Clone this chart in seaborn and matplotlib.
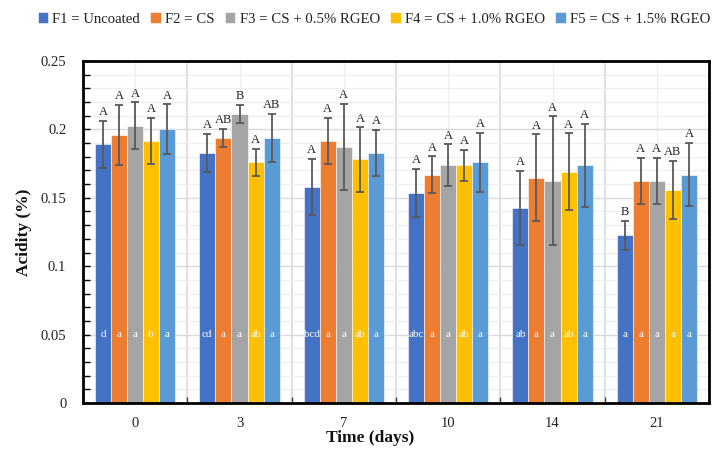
import matplotlib
matplotlib.use("Agg")
import matplotlib.pyplot as plt
import numpy as np
import pandas as pd
import seaborn as sns
from matplotlib.ticker import MultipleLocator, FixedLocator, FuncFormatter

# Storage days and coating formulations
days = ["0", "3", "7", "10", "14", "21"]
formulations = ["F1 = Uncoated", "F2 = CS", "F3 = CS + 0.5% RGEO",
                "F4 = CS + 1.0% RGEO", "F5 = CS + 1.5% RGEO"]
colors = ["#4472C4", "#ED7D31", "#A5A5A5", "#FFC000", "#5B9BD5"]

# Mean titratable acidity (%) per formulation across days
f1_mean = [0.189, 0.1825, 0.158, 0.1535, 0.1425, 0.1225]
f2_mean = [0.196, 0.1937, 0.1915, 0.1669, 0.1647, 0.1625]
f3_mean = [0.2027, 0.2115, 0.1871, 0.1737, 0.1625, 0.1625]
f4_mean = [0.1915, 0.176, 0.178, 0.1737, 0.1691, 0.1557]
f5_mean = [0.2003, 0.1937, 0.1827, 0.176, 0.1737, 0.1669]

# Standard deviations
f1_sd = [0.017, 0.014, 0.0205, 0.0177, 0.027, 0.0105]
f2_sd = [0.0217, 0.0067, 0.017, 0.0134, 0.0317, 0.0167]
f3_sd = [0.017, 0.0067, 0.0316, 0.0154, 0.047, 0.0167]
f4_sd = [0.017, 0.010, 0.0234, 0.0115, 0.028, 0.0215]
f5_sd = [0.018, 0.0177, 0.0168, 0.0217, 0.0306, 0.0231]

# Significance letters: uppercase between days, lowercase between formulations
f1_upper = ["A", "A", "A", "A", "A", "B"]
f2_upper = ["A", "AB", "A", "A", "A", "A"]
f3_upper = ["A", "B", "A", "A", "A", "A"]
f4_upper = ["A", "A", "A", "A", "A", "AB"]
f5_upper = ["A", "AB", "A", "A", "A", "A"]

f1_lower = ["d", "cd", "bcd", "abc", "ab", "a"]
f2_lower = ["a", "a", "a", "a", "a", "a"]
f3_lower = ["a", "a", "a", "a", "a", "a"]
f4_lower = ["b", "ab", "ab", "ab", "ab", "a"]
f5_lower = ["a", "a", "a", "a", "a", "a"]

means = [f1_mean, f2_mean, f3_mean, f4_mean, f5_mean]
sds = [f1_sd, f2_sd, f3_sd, f4_sd, f5_sd]
uppers = [f1_upper, f2_upper, f3_upper, f4_upper, f5_upper]
lowers = [f1_lower, f2_lower, f3_lower, f4_lower, f5_lower]

rows = []
for name, vals in zip(formulations, means):
    for d, v in zip(days, vals):
        rows.append({"day": d, "formulation": name, "acidity": v})
df = pd.DataFrame(rows)

sns.set_style("white")
plt.rcParams["font.family"] = ["Liberation Serif", "DejaVu Serif"]

fig = plt.figure(figsize=(7.15, 4.49), dpi=100)
ax = fig.add_axes([83 / 715, 1 - 403 / 449, 626 / 715, 342 / 449])

sns.barplot(data=df, x="day", y="acidity", hue="formulation",
            order=days, hue_order=formulations, palette=colors,
            width=0.77, errorbar=None, saturation=1,
            edgecolor="white", linewidth=0.4, ax=ax, zorder=2)

# Error bars and letters on each bar
bar_containers = list(ax.containers)
for k, cont in enumerate(bar_containers):
    for j, bar in enumerate(cont.patches):
        x = bar.get_x() + bar.get_width() / 2
        h = bar.get_height()
        e = sds[k][j]
        ax.errorbar(x, h, yerr=e, fmt="none", ecolor="#595959",
                    elinewidth=1.3, capsize=2.6, capthick=1.3, zorder=3)
        ax.annotate(uppers[k][j], (x, h + e), xytext=(0, 2),
                    textcoords="offset points", ha="center", va="bottom",
                    fontsize=9, color="#222222", zorder=4)
        ax.text(x, 0.05, lowers[k][j], ha="center", va="center",
                fontsize=8, color="white", zorder=4)

ax.set_xlim(-0.5, 5.5)
ax.set_ylim(0, 0.25)

# Gridlines
ax.yaxis.set_major_locator(MultipleLocator(0.05))
ax.yaxis.set_minor_locator(MultipleLocator(0.01))
ax.yaxis.set_major_formatter(FuncFormatter(lambda v, p: f"{round(v, 3):g}"))
ax.xaxis.set_minor_locator(FixedLocator(np.arange(0.5, 5.0, 1.0)))
ax.set_axisbelow(True)
ax.grid(which="major", axis="y", color="#d9d9d9", lw=1.0, zorder=0)
ax.grid(which="minor", axis="y", color="#eeeeee", lw=0.9, zorder=0)
ax.grid(which="minor", axis="x", color="#d9d9d9", lw=1.2, zorder=0)
ax.grid(which="major", axis="x", color="#eeeeee", lw=1.0, zorder=0)

ax.tick_params(axis="y", which="both", direction="in", length=5, width=1,
               color="black", left=True, pad=12, labelsize=10.5,
               labelcolor="#222222")
ax.tick_params(axis="x", which="both", direction="in", length=4, width=1,
               color="#404040", bottom=True, pad=10, labelsize=10.5,
               labelcolor="#222222")

for s in ax.spines.values():
    s.set_visible(True)
    s.set_color("black")
    s.set_linewidth(2)

ax.set_xlabel("Time (days)", fontsize=12.5, fontweight="bold", color="#111111")
ax.xaxis.set_label_coords(0.458, -0.08)
ax.set_ylabel("Acidity (%)", fontsize=12.5, fontweight="bold", color="#111111")
ax.yaxis.set_label_coords(-0.081, 0.5)

handles, labels = ax.get_legend_handles_labels()
ax.get_legend().remove()
fig.legend(handles, labels, loc="center", bbox_to_anchor=(374 / 715, 1 - 19 / 449),
           ncol=5, frameon=False, handlelength=0.7, handleheight=0.7,
           handletextpad=0.3, columnspacing=0.7, fontsize=10.6,
           labelcolor="#222222")

fig.savefig("out.png", dpi=100)
